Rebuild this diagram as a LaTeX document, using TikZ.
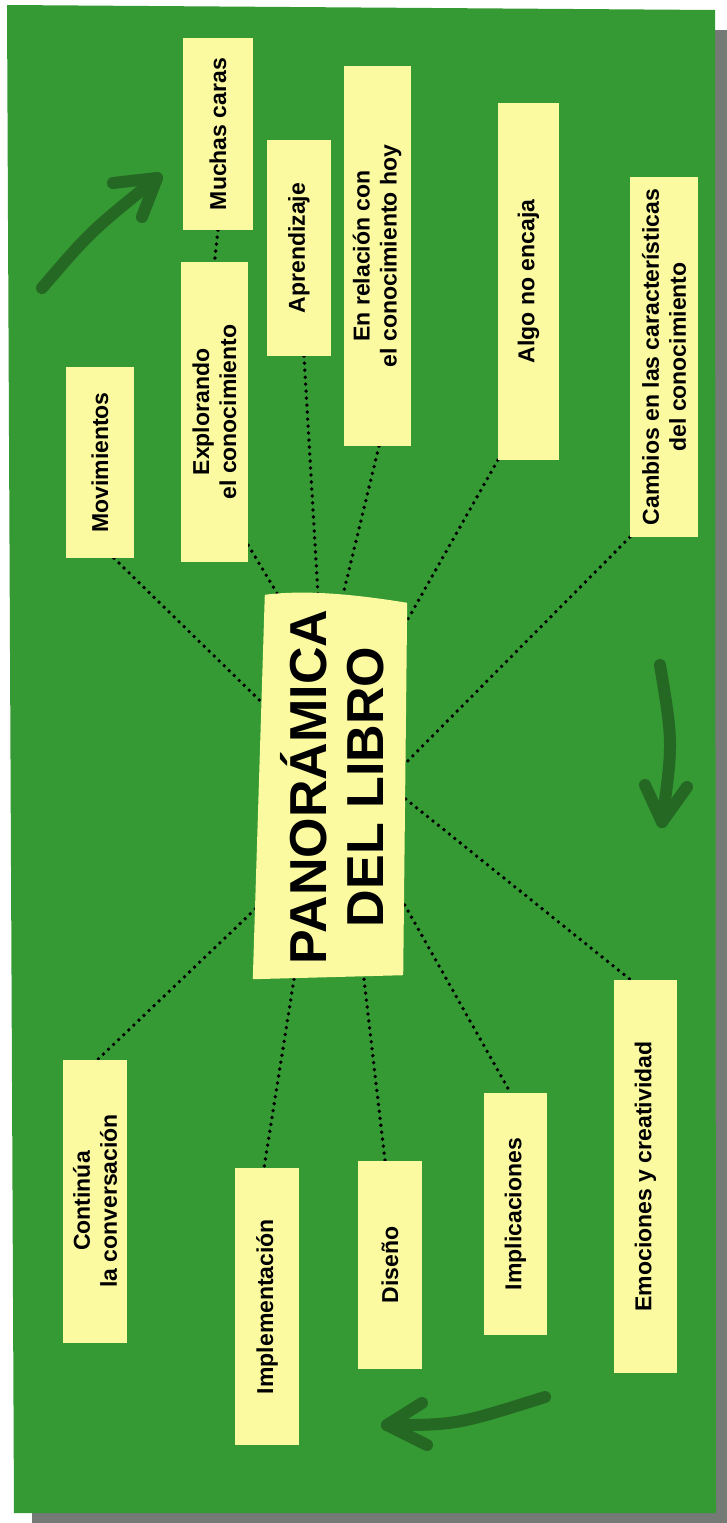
\documentclass[tikz,border=0pt]{standalone}
\usepackage{fontspec}
\setmainfont{Liberation Sans}
\usetikzlibrary{calc,backgrounds}
\definecolor{bggreen}{RGB}{53,153,52}
\definecolor{noteyellow}{RGB}{252,250,160}
\definecolor{arrowgreen}{RGB}{36,104,36}
\definecolor{shadowgrey}{RGB}{118,122,118}
\begin{document}
\begin{tikzpicture}[x=1pt,y=-1pt,
  note/.style={fill=noteyellow, rotate=90, inner sep=0pt, align=center,
    font=\fontsize{23}{27}\selectfont\bfseries, text=black},
  centralbox/.style={rotate=90, inner sep=0pt, align=center,
    font=\fontsize{52}{57}\selectfont\bfseries, text=black},
  dotline/.style={line width=3.8pt, dash pattern=on 0pt off 7pt, line cap=round, black},
  bigarrow/.style={line width=12pt, line cap=round, line join=round, arrowgreen}]
\useasboundingbox (0,0) rectangle (727,1523);
\begin{scope}[on background layer]
\fill[shadowgrey] (32,30) -- (727,30) -- (727,1523) -- (32,1523) -- cycle;
\fill[bggreen] (7,5) -- (715,10) -- (716,1513) -- (14,1513) -- cycle;
\end{scope}

% notes
\node[note, minimum width=192pt, minimum height=70pt] (muchas) at (218,134) {Muchas caras};
\node[note, minimum width=216pt, minimum height=64pt] (aprend) at (299,248) {Aprendizaje};
\node[note, minimum width=380pt, minimum height=67pt] (relacion) at (377,256) {En relación con\\el conocimiento hoy};
\node[note, minimum width=357pt, minimum height=61pt] (algo) at (528.5,281.5) {Algo no encaja};
\node[note, minimum width=360pt, minimum height=68pt] (cambios) at (664,357) {Cambios en las características\\del conocimiento};
\node[note, minimum width=300pt, minimum height=67pt] (explorando) at (214.5,412) {Explorando\\el conocimiento};
\node[note, minimum width=191pt, minimum height=68pt] (movimientos) at (100,462.5) {Movimientos};
\node[centralbox, minimum width=384pt, minimum height=147pt] (central) at (332,787) {PANORÁMICA\\DEL LIBRO};
\node[note, minimum width=283pt, minimum height=64pt] (continua) at (95,1201) {Continúa\\la conversación};
\node[note, minimum width=277pt, minimum height=64pt] (implementacion) at (267,1306.5) {Implementación};
\node[note, minimum width=208pt, minimum height=64pt] (diseno) at (390,1265) {Diseño};
\node[note, minimum width=242pt, minimum height=63pt] (implicaciones) at (515.5,1214) {Implicaciones};
\node[note, minimum width=393pt, minimum height=63pt] (emociones) at (645.5,1176.5) {Emociones y creatividad};

\begin{scope}[on background layer]
% connectors
\draw[dotline] (muchas.west) -- (explorando.east);
\draw[dotline] ($(aprend.west)+(5,0)$) -- ($(central.east)+(-14,0)$);
\draw[dotline] ($(relacion.west)+(2,0)$) -- ($(central.east)+(11,0)$);
\draw[dotline] ($(explorando.south west)+(0,-17)$) -- ($(central.east)+(-54,0)$);
\draw[dotline] ($(movimientos.west)+(14,0)$) -- ($(central.north)+(3,-85)$);
\draw[dotline] (algo.north west) -- ($(central.south)+(0,-164)$);
\draw[dotline] (cambios.north west) -- ($(central.south)+(0,-24)$);
\draw[dotline] ($(central.south)+(0,12)$) -- ($(emociones.east)+(-15,0)$);
\draw[dotline] ($(central.south)+(-1,118)$) -- ($(implicaciones.east)+(-5,0)$);
\draw[dotline] ($(central.west)+(32,0)$) -- ($(diseno.east)+(-5,0)$);
\draw[dotline] ($(central.west)+(-38,0)$) -- ($(implementacion.east)+(-3,0)$);
\draw[dotline] ($(central.north)+(-3,122)$) -- ($(continua.east)+(3,0)$);
% central sticky note shape (slightly skewed, wavy top)
\coordinate (ctl) at ($(central.north east)+(6.5,0)$);
\coordinate (ctr) at ($(central.south east)+(1.5,8)$);
\coordinate (cbr) at ($(central.south west)+(-2.5,-4)$);
\coordinate (cbl) at ($(central.north west)+(-5.5,0)$);
\fill[noteyellow] (cbl) -- (cbr) -- (ctr)
  .. controls ($(ctr)!0.33!(ctl)+(0,-5)$)
  and ($(ctr)!0.7!(ctl)+(0,-8)$) .. (ctl) -- cycle;
\end{scope}

% arrows
\draw[bigarrow] (42,288) .. controls (91,231) .. (157,178);
\draw[bigarrow] (113,183) -- (157,178) -- (142,217);
\draw[bigarrow] (660,665) .. controls (673,743) .. (662,822);
\draw[bigarrow] (645,785) -- (662,822) -- (687,787);
\draw[bigarrow] (545,1397) .. controls (456,1425) .. (387,1425);
\draw[bigarrow] (422,1403) -- (387,1425) -- (427,1445);
\end{tikzpicture}
\end{document}
